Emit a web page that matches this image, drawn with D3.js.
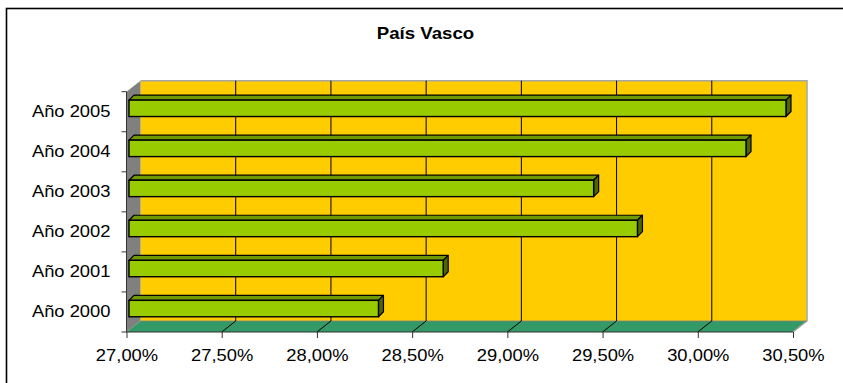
<!DOCTYPE html>
<html>
<head>
<meta charset="utf-8">
<script src="https://cdn.jsdelivr.net/npm/d3@7"></script>
<style>
  html, body { margin: 0; padding: 0; background: #fff; }
  svg { display: block; }
  text { font-family: Arial, "Liberation Sans", sans-serif; fill: #000; }
</style>
</head>
<body>
<svg id="chart" width="843" height="383"></svg>
<script>
// Share by year, País Vasco
const categories = ["Año 2000", "Año 2001", "Año 2002", "Año 2003", "Año 2004", "Año 2005"];
const values = [28.31, 28.65, 29.67, 29.44, 30.24, 30.45];
const tickValues = [27.0, 27.5, 28.0, 28.5, 29.0, 29.5, 30.0, 30.5];
const title = "País Vasco";

const svg = d3.select("#chart");
const W = 843, H = 383;

// front plane of the 3-D box
const pLeft = 126.5, pRight = 793, pTop = 91.7, pBottom = 332;
// depth of the box (back wall offset) and of the bars
const depth = { dx: 14, dy: -11 };
const barDepth = { dx: 5, dy: -5 };
const barShift = { dx: 2.5, dy: -1.5 };

const x = d3.scaleLinear().domain([27, 30.5]).range([pLeft, pRight]);
const y = d3.scaleBand().domain(categories.slice().reverse()).range([pTop, pBottom]).padding(0);

const fmt = v => d3.format(".2f")(v).replace(".", ",") + "%";

// outer frame
svg.append("rect")
  .attr("x", 6.5).attr("y", 8.5)
  .attr("width", W).attr("height", H)
  .attr("fill", "#fff").attr("stroke", "#000").attr("stroke-width", 1.6);

// title
svg.append("text")
  .attr("transform", `translate(${W / 2 + 4},38.5) scale(1.13,1)`)
  .attr("text-anchor", "middle")
  .attr("font-weight", "bold")
  .attr("font-size", 16.5)
  .text(title);

const plot = svg.append("g");

// back wall
plot.append("rect")
  .attr("x", pLeft + depth.dx).attr("y", pTop + depth.dy)
  .attr("width", pRight - pLeft).attr("height", pBottom - pTop)
  .attr("fill", "#FFCC00");

// left side wall
plot.append("path")
  .attr("d", d3.line()([[pLeft, pTop], [pLeft + depth.dx, pTop + depth.dy],
    [pLeft + depth.dx, pBottom + depth.dy], [pLeft, pBottom]]) + "Z")
  .attr("fill", "#808080");

// floor
plot.append("path")
  .attr("d", d3.line()([[pLeft, pBottom], [pLeft + depth.dx, pBottom + depth.dy],
    [pRight + depth.dx, pBottom + depth.dy], [pRight, pBottom]]) + "Z")
  .attr("fill", "#339966");

// back wall border on top and right
plot.append("path")
  .attr("d", d3.line()([[pLeft + depth.dx, pTop + depth.dy], [pRight + depth.dx, pTop + depth.dy],
    [pRight + depth.dx, pBottom + depth.dy], [pRight, pBottom]]))
  .attr("fill", "none").attr("stroke", "#a6a6a6").attr("stroke-width", 1.5);
plot.append("line")
  .attr("x1", pLeft + depth.dx).attr("x2", pRight + depth.dx)
  .attr("y1", pBottom + depth.dy).attr("y2", pBottom + depth.dy)
  .attr("stroke", "#808080").attr("stroke-width", 0.8);

// gridlines on the back wall and across the floor
const inner = tickValues.slice(1, -1);
plot.selectAll(".grid").data(inner).join("path")
  .attr("class", "grid")
  .attr("d", v => d3.line()([[x(v) + depth.dx, pTop + depth.dy],
    [x(v) + depth.dx, pBottom + depth.dy], [x(v), pBottom]]))
  .attr("fill", "none").attr("stroke", "#000").attr("stroke-width", 1);

// bars
const bars = plot.selectAll(".bar").data(values).join("g").attr("class", "bar");
const bw = y.bandwidth();
const fy = (d, i) => y(categories[i]) + bw * 0.21 + barShift.dy + 1.5;
const fh = bw * 0.41;
const x0 = x(27) + barShift.dx;

bars.append("path") // top face
  .attr("d", (d, i) => {
    const t = fy(d, i), x1 = x(d) + barShift.dx;
    return d3.line()([[x0, t], [x0 + barDepth.dx, t + barDepth.dy],
      [x1 + barDepth.dx, t + barDepth.dy], [x1, t]]) + "Z";
  })
  .attr("fill", "#6E9900").attr("stroke", "#000").attr("stroke-width", 1.2)
  .attr("stroke-linejoin", "round");

bars.append("path") // end face
  .attr("d", (d, i) => {
    const t = fy(d, i), x1 = x(d) + barShift.dx;
    return d3.line()([[x1, t], [x1 + barDepth.dx, t + barDepth.dy],
      [x1 + barDepth.dx, t + fh + barDepth.dy], [x1, t + fh]]) + "Z";
  })
  .attr("fill", "#4D6600").attr("stroke", "#000").attr("stroke-width", 1.2)
  .attr("stroke-linejoin", "round");

bars.append("rect") // front face
  .attr("x", x0)
  .attr("y", (d, i) => fy(d, i))
  .attr("width", d => x(d) + barShift.dx - x0)
  .attr("height", fh)
  .attr("fill", "#99CC00").attr("stroke", "#000").attr("stroke-width", 1.4);

// axes
const xAxis = d3.axisBottom(x).tickValues(tickValues).tickSize(6).tickFormat(fmt);
const gx = svg.append("g").attr("transform", `translate(0,${pBottom})`).call(xAxis);
gx.select(".domain").attr("stroke", "#333").attr("d", `M${pLeft},0H${pRight}`);
gx.selectAll(".tick line").attr("stroke", "#333");
gx.selectAll(".tick text").remove();
gx.selectAll(".tick").append("text")
  .attr("transform", "translate(0,29) scale(1.17,1)")
  .attr("text-anchor", "middle")
  .attr("font-size", 15.7)
  .attr("fill", "#000")
  .text(d => fmt(d));

const yAxis = d3.axisLeft(y).tickSize(0).tickFormat("");
const gy = svg.append("g").attr("transform", `translate(${pLeft},0)`).call(yAxis);
gy.select(".domain").attr("stroke", "#333").attr("d", `M0,${pTop}V${pBottom}`);
// tick marks sit on the category boundaries
gy.selectAll(".boundary").data(d3.range(categories.length + 1)).join("line")
  .attr("class", "boundary")
  .attr("x1", -5).attr("x2", 0)
  .attr("y1", i => pTop + i * bw).attr("y2", i => pTop + i * bw)
  .attr("stroke", "#333");
gy.selectAll(".tick").attr("transform", d => `translate(0,${y(d)})`);
gy.selectAll(".tick").append("text")
  .attr("transform", `translate(-16,${bw / 2 + 5}) scale(1.17,1)`)
  .attr("text-anchor", "end")
  .attr("font-size", 15.7)
  .attr("fill", "#000")
  .text(d => d);
</script>
</body>
</html>
